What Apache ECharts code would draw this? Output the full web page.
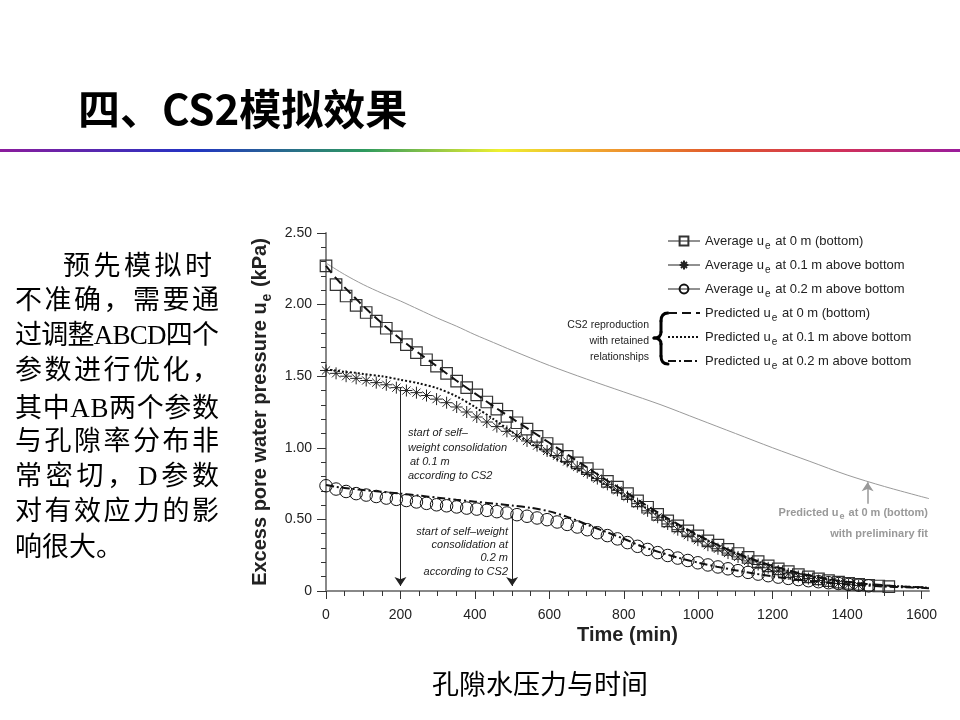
<!DOCTYPE html>
<html><head><meta charset="utf-8">
<script src="https://cdn.jsdelivr.net/npm/echarts@6/dist/echarts.min.js"></script>
<style>html,body{margin:0;padding:0;background:#fff}#c{width:960px;height:720px}</style>
</head><body><div id="c"></div>
<script>
// ---------------- data ----------------
const avgTimes = [0,27,54,81,108,135,162,189,216,243,270,297,324,351,378,405,432,459,486,513,540,567,594,621,648,675,702,729,756,783,810,837,864,891,918,945,972,999,1026,1053,1080,1107,1134,1161,1188,1215,1242,1269,1296,1323,1350,1377,1404,1431,1458,1485,1512];
const avgBottom = [2.27,2.14,2.06,1.995,1.945,1.885,1.835,1.775,1.72,1.665,1.615,1.57,1.52,1.465,1.42,1.37,1.32,1.27,1.22,1.175,1.13,1.08,1.03,0.985,0.94,0.895,0.855,0.81,0.765,0.725,0.68,0.63,0.585,0.535,0.49,0.455,0.42,0.385,0.35,0.32,0.29,0.262,0.235,0.205,0.175,0.155,0.135,0.115,0.098,0.084,0.072,0.062,0.053,0.046,0.04,0.035,0.031];
const avgMid = [1.54,1.52,1.50,1.485,1.47,1.455,1.44,1.42,1.40,1.385,1.365,1.34,1.315,1.285,1.25,1.215,1.18,1.148,1.115,1.082,1.048,1.015,0.978,0.945,0.905,0.867,0.826,0.785,0.745,0.703,0.658,0.61,0.56,0.515,0.468,0.428,0.39,0.355,0.32,0.295,0.265,0.238,0.21,0.185,0.162,0.14,0.12,0.102,0.087,0.073,0.062,0.052,0.044,0.038];
const avgTop = [0.735,0.712,0.695,0.68,0.67,0.66,0.649,0.64,0.632,0.622,0.612,0.602,0.595,0.587,0.579,0.572,0.563,0.554,0.545,0.533,0.522,0.51,0.498,0.482,0.465,0.447,0.428,0.407,0.387,0.364,0.338,0.312,0.29,0.268,0.248,0.23,0.213,0.197,0.182,0.168,0.155,0.142,0.13,0.118,0.107,0.097,0.088,0.08,0.072,0.065,0.058,0.052,0.046,0.041,0.036];

const predTimes = [0,25,50,75,100,150,200,250,300,350,400,450,500,550,600,650,700,750,800,850,900,950,1000,1050,1100,1150,1200,1250,1300,1350,1400,1450,1500,1550,1600,1620];
const predBottom = [2.27,2.19,2.12,2.055,1.99,1.87,1.76,1.66,1.565,1.47,1.38,1.29,1.205,1.12,1.035,0.95,0.865,0.78,0.70,0.615,0.535,0.46,0.39,0.325,0.268,0.218,0.175,0.138,0.108,0.083,0.064,0.05,0.04,0.032,0.026,0.024];
const predMid = [1.545,1.54,1.53,1.525,1.515,1.50,1.475,1.45,1.415,1.36,1.285,1.20,1.11,1.03,0.95,0.88,0.815,0.745,0.67,0.595,0.52,0.45,0.385,0.322,0.265,0.214,0.17,0.134,0.104,0.08,0.062,0.048,0.038,0.031,0.025,0.023];
const predTop = [0.74,0.728,0.72,0.712,0.705,0.693,0.68,0.666,0.652,0.637,0.624,0.611,0.597,0.581,0.556,0.516,0.465,0.415,0.365,0.31,0.268,0.23,0.198,0.17,0.145,0.122,0.102,0.085,0.07,0.057,0.047,0.038,0.031,0.026,0.022,0.02];

const prelimTimes = [0,50,100,150,200,250,300,350,400,450,500,600,700,800,900,1000,1100,1200,1300,1400,1500,1620];
const prelimBottom = [2.29,2.21,2.14,2.08,2.025,1.965,1.905,1.85,1.79,1.735,1.68,1.575,1.48,1.39,1.30,1.20,1.10,1.00,0.905,0.81,0.73,0.645];

const xTicks = [0,200,400,600,800,1000,1200,1400,1600];
const xMinorTicks = [50,100,150,250,300,350,450,500,550,650,700,750,850,900,950,1050,1100,1150,1250,1300,1350,1450,1500,1550];
const seriesNames = ['Average u_e at 0 m (bottom)','Average u_e at 0.1 m above bottom','Average u_e at 0.2 m above bottom','Predicted u_e at 0 m (bottom)','Predicted u_e at 0.1 m above bottom','Predicted u_e at 0.2 m above bottom'];
const paragraph = ['预先模拟时','不准确，需要通','过调整ABCD四个','参数进行优化，','其中AB两个参数','与孔隙率分布非','常密切，D参数','对有效应力的影','响很大。'];

// ---------------- helpers ----------------
const pair = (ts, vs) => vs.map((v, i) => [ts[i], v]);
const F = "'Liberation Sans', Arial, sans-serif";
const CJK = "'Noto Sans CJK SC', sans-serif";
const PF = "'Liberation Serif', 'Noto Sans CJK SC', serif";
const starPath = 'path://M5,0L5,10M0,5L10,5M1.6,1.6L8.4,8.4M1.6,8.4L8.4,1.6';

const ctx = document.createElement('canvas').getContext('2d');
function lineEls(text, x0, x1, yc, size, justify) {
  ctx.font = size + 'px ' + PF;
  const chars = Array.from(text);
  const w = chars.map(c => ctx.measureText(c).width);
  const tot = w.reduce((a, b) => a + b, 0);
  const gap = justify ? (x1 - x0 - tot) / (chars.length - 1) : 0;
  let x = x0; const out = [];
  chars.forEach((c, i) => {
    out.push({type: 'text', x: x, y: yc, silent: true,
      style: {text: c, fontSize: size, fontFamily: PF, fill: '#000', align: 'left', verticalAlign: 'middle'}});
    x += w[i] + gap;
  });
  return out;
}
const paraY = [268, 302, 337, 372, 410, 443, 478, 513, 549];
let paraEls = [];
paragraph.forEach((t, i) => {
  const first = i === 0, last = i === paragraph.length - 1;
  paraEls = paraEls.concat(lineEls(t, first ? 63 : 15, first ? 212 : 219, paraY[i], 27, !last));
});

function txt(x, y, text, opt) {
  return Object.assign({type: 'text', x: x, y: y, silent: true,
    style: Object.assign({text: text, fontSize: 11, fontFamily: F, fill: '#222', align: 'left', verticalAlign: 'middle'}, opt || {})});
}
function bez(x1, y1, cx, cy, x2, y2) {
  return {type: 'bezierCurve', silent: true, shape: {x1: x1, y1: y1, x2: x2, y2: y2, cpx1: cx, cpy1: cy},
    style: {stroke: '#000', lineWidth: 3, fill: null, lineCap: 'round'}};
}
function seg(x1, y1, x2, y2) {
  return {type: 'line', silent: true, shape: {x1: x1, y1: y1, x2: x2, y2: y2},
    style: {stroke: '#000', lineWidth: 3, lineCap: 'round'}};
}

const richLegend = {
  n: {fontSize: 13, fontFamily: F, color: '#222', lineHeight: 14, verticalAlign: 'middle'},
  s: {fontSize: 10, fontFamily: F, color: '#222', lineHeight: 10, padding: [10, 1, 0, 1], verticalAlign: 'middle'}
};

const chart = echarts.init(document.getElementById('c'), null, {renderer: 'canvas'});
const avgLine = {opacity: 0, width: 0};
const option = {
  animation: false,
  backgroundColor: '#fff',
  grid: {left: 326, top: 233, width: 603, height: 358},
  xAxis: [{
    type: 'value', min: 0, max: 1620, position: 'bottom',
    axisLine: {lineStyle: {color: '#888', width: 2}},
    axisTick: {customValues: xTicks, length: 8, lineStyle: {color: '#333', width: 1}},
    axisLabel: {customValues: xTicks, margin: 17, fontSize: 14, color: '#222', fontFamily: F,
      formatter: v => String(v)},
    splitLine: {show: false},
    name: 'Time (min)', nameLocation: 'middle', nameGap: 34,
    nameTextStyle: {fontSize: 20, fontWeight: 'bold', color: '#222', fontFamily: F}
  }, {
    type: 'value', min: 0, max: 1620, position: 'top', offset: -358,
    axisLine: {show: false},
    axisTick: {customValues: xMinorTicks, inside: true, length: 5, lineStyle: {color: '#333', width: 1}},
    axisLabel: {show: false}, splitLine: {show: false}
  }],
  yAxis: {
    type: 'value', min: 0, max: 2.5, interval: 0.5,
    axisLine: {show: true, lineStyle: {color: '#888', width: 2}},
    axisTick: {show: true, length: 9, lineStyle: {color: '#333', width: 1}},
    minorTick: {show: true, splitNumber: 5, length: 5, lineStyle: {color: '#333', width: 1}},
    axisLabel: {margin: 14, fontSize: 14, color: '#222', fontFamily: F,
      formatter: v => v === 0 ? '0' : v.toFixed(2)},
    splitLine: {show: false}, minorSplitLine: {show: false},
    name: '{n|Excess pore water pressure u}{s|e}{n| (kPa)}', nameLocation: 'middle', nameGap: 50,
    nameTextStyle: {rich: {
      n: {fontSize: 20, fontWeight: 'bold', color: '#222', fontFamily: F, lineHeight: 20, verticalAlign: 'middle'},
      s: {fontSize: 14, fontWeight: 'bold', color: '#222', fontFamily: F, lineHeight: 14, padding: [12, 1, 0, 1], verticalAlign: 'middle'}
    }}
  },
  legend: {
    orient: 'vertical', left: 662, top: 226, itemWidth: 32, itemHeight: 11, itemGap: 4,
    selectedMode: false,
    data: seriesNames.map((n, i) => i < 3
      ? {name: n, lineStyle: {opacity: 1, width: 1, color: '#222'}}
      : {name: n, itemStyle: {opacity: 0}, lineStyle: {opacity: 1, width: 2, color: '#111'}}),
    formatter: name => { const p = name.split('u_e'); return '{n|' + p[0] + 'u}{s|e}{n|' + p[1] + '}'; },
    textStyle: {rich: richLegend}
  },
  series: [
    {name: 'prelim', type: 'line', data: pair(prelimTimes, prelimBottom), symbol: 'none', smooth: 0.3,
      lineStyle: {color: '#9a9a9a', width: 1}, silent: true, z: 1,
      markLine: {silent: true, symbol: ['none', 'arrow'], symbolSize: 9, label: {show: false},
        lineStyle: {color: '#999', width: 1.5, type: 'solid'},
        data: [[{coord: [1455, 0.61]}, {coord: [1455, 0.76]}]]}},
    {name: seriesNames[0], type: 'line', data: pair(avgTimes, avgBottom), symbol: 'rect', symbolSize: 11.5,
      showAllSymbol: true, lineStyle: avgLine, itemStyle: {color: 'rgba(0,0,0,0)', borderColor: '#333', borderWidth: 1.2}, z: 2, silent: true},
    {name: seriesNames[1], type: 'line', data: pair(avgTimes, avgMid), symbol: starPath, symbolSize: 12,
      showAllSymbol: true, lineStyle: avgLine, itemStyle: {color: 'rgba(0,0,0,0)', borderColor: '#222', borderWidth: 1}, z: 2, silent: true,
      markLine: {silent: true, symbol: ['none', 'arrow'], symbolSize: 9, label: {show: false},
        lineStyle: {color: '#222', width: 1, type: 'solid'},
        data: [[{coord: [200, 1.42]}, {coord: [200, 0.035]}], [{coord: [500, 0.535]}, {coord: [500, 0.035]}]]}},
    {name: seriesNames[2], type: 'line', data: pair(avgTimes, avgTop), symbol: 'circle', symbolSize: 12.5,
      showAllSymbol: true, lineStyle: avgLine, itemStyle: {color: 'rgba(0,0,0,0)', borderColor: '#111', borderWidth: 1}, z: 2, silent: true},
    {name: seriesNames[3], type: 'line', data: pair(predTimes, predBottom), symbol: 'none', smooth: 0.3,
      itemStyle: {color: '#111'}, lineStyle: {color: '#111', width: 2, type: [9, 5]}, z: 3, silent: true},
    {name: seriesNames[4], type: 'line', data: pair(predTimes, predMid), symbol: 'none', smooth: 0.3,
      itemStyle: {color: '#111'}, lineStyle: {color: '#111', width: 2, type: [2, 2]}, z: 3, silent: true},
    {name: seriesNames[5], type: 'line', data: pair(predTimes, predTop), symbol: 'none', smooth: 0.3,
      itemStyle: {color: '#111'}, lineStyle: {color: '#111', width: 2, type: [8, 3, 2, 3]}, z: 3, silent: true}
  ],
  graphic: [
    {type: 'text', x: 78, y: 109, silent: true,
      style: {text: '四、CS2模拟效果', fontSize: 42, fontWeight: 'bold', fontFamily: CJK, fill: '#000', align: 'left', verticalAlign: 'middle'}},
    {type: 'rect', silent: true, shape: {x: 0, y: 149, width: 960, height: 3},
      style: {fill: new echarts.graphic.LinearGradient(0, 0, 1, 0, [
        {offset: 0, color: '#8c1c9c'}, {offset: 0.2, color: '#2233c4'}, {offset: 0.38, color: '#2e9a5e'},
        {offset: 0.52, color: '#eef030'}, {offset: 0.63, color: '#f0a030'}, {offset: 0.75, color: '#e0582c'},
        {offset: 0.88, color: '#d0305c'}, {offset: 1, color: '#9a1c9c'}])}},
    ...paraEls,
    {type: 'text', x: 540, y: 684, silent: true,
      style: {text: '孔隙水压力与时间', fontSize: 27, fontFamily: CJK, fill: '#000', align: 'center', verticalAlign: 'middle'}},
    txt(408, 433, 'start of self–', {fontStyle: 'italic'}),
    txt(408, 448, 'weight consolidation', {fontStyle: 'italic'}),
    txt(410, 462, 'at 0.1 m', {fontStyle: 'italic'}),
    txt(408, 476, 'according to CS2', {fontStyle: 'italic'}),
    txt(508, 532, 'start of self–weight', {fontStyle: 'italic', align: 'right'}),
    txt(508, 545, 'consolidation at', {fontStyle: 'italic', align: 'right'}),
    txt(508, 558, '0.2 m', {fontStyle: 'italic', align: 'right'}),
    txt(508, 572, 'according to CS2', {fontStyle: 'italic', align: 'right'}),
    txt(649, 325, 'CS2 reproduction', {align: 'right', fontSize: 10.5}),
    txt(649, 341, 'with retained', {align: 'right', fontSize: 10.5}),
    txt(649, 357, 'relationships', {align: 'right', fontSize: 10.5}),
    bez(668, 313, 661, 313, 661, 321),
    seg(661, 321, 661, 332),
    bez(661, 332, 661, 338, 654, 338),
    bez(654, 338, 661, 338, 661, 344),
    seg(661, 344, 661, 356),
    bez(661, 356, 661, 364, 668, 364),
    {type: 'text', x: 928, y: 513, silent: true,
      style: {text: '{g|Predicted u}{h|e}{g| at 0 m (bottom)}', align: 'right', verticalAlign: 'middle',
        rich: {g: {fontSize: 11, fontWeight: 'bold', fontFamily: F, fill: '#999', lineHeight: 12, verticalAlign: 'middle'},
               h: {fontSize: 9, fontWeight: 'bold', fontFamily: F, fill: '#999', lineHeight: 9, padding: [8, 1, 0, 1], verticalAlign: 'middle'}}}},
    txt(928, 534, 'with preliminary fit', {align: 'right', fontWeight: 'bold', fill: '#999'})
  ]
};
chart.setOption(option);
</script></body></html>
